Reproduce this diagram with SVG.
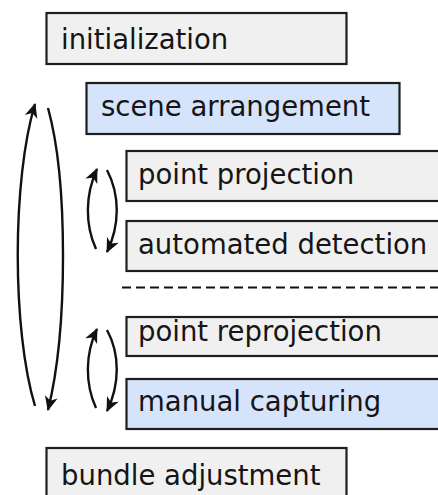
<svg xmlns="http://www.w3.org/2000/svg" width="438" height="495" viewBox="0 0 438 495">
  <style>
    .box { stroke: #1e1e1e; stroke-width: 2.2; }
    .grey { fill: #f0f0f0; }
    .blue { fill: #d5e4fa; }
    .label { font-family: "DejaVu Sans", sans-serif; font-size: 27.5px; fill: #151515; }
    .link { fill: none; stroke: #111; stroke-width: 2.4; }
    .sep { fill: none; stroke: #111; stroke-width: 2; stroke-dasharray: 9 5; }
  </style>
  <defs>
    <marker id="head" markerUnits="userSpaceOnUse" markerWidth="18" markerHeight="14" viewBox="-15 -7 16 14" refX="0" refY="0" orient="auto">
      <path d="M1,0 L-13.5,-6.5 L-9.5,0 L-13.5,6.5 Z" fill="#111"/>
    </marker>
  </defs>
  <rect width="438" height="495" fill="#ffffff"/>

  <g id="initialization">
    <rect class="box grey" x="46.5" y="13" width="300" height="51"/>
    <text class="label" x="61" y="49">initialization</text>
  </g>
  <g id="scene-arrangement">
    <rect class="box blue" x="86.5" y="83" width="313" height="51"/>
    <text class="label" x="101" y="116">scene arrangement</text>
  </g>
  <g id="point-projection">
    <rect class="box grey" x="126.5" y="151" width="330" height="50"/>
    <text class="label" x="138" y="184">point projection</text>
  </g>
  <g id="automated-detection">
    <rect class="box grey" x="126.5" y="221" width="330" height="50"/>
    <text class="label" x="138" y="254">automated detection</text>
  </g>
  <g id="point-reprojection">
    <rect class="box grey" x="126.5" y="317" width="330" height="39"/>
    <text class="label" x="138" y="341">point reprojection</text>
  </g>
  <g id="manual-capturing">
    <rect class="box blue" x="126.5" y="379" width="330" height="50"/>
    <text class="label" x="138" y="411">manual capturing</text>
  </g>
  <g id="bundle-adjustment">
    <rect class="box grey" x="46.5" y="448" width="300" height="60"/>
    <text class="label" x="61" y="485">bundle adjustment</text>
  </g>

  <g id="connectors">
    <path class="sep" d="M122,287.5 H438"/>
    <!-- outer loop -->
    <path class="link" d="M35,406 C12,330 12,180 35,104" marker-end="url(#head)"/>
    <path class="link" d="M48,108 C68,180 68,330 48,410" marker-end="url(#head)"/>
    <!-- inner loop: projection / detection -->
    <path class="link" d="M96,249 C85,225 85,195 97,169" marker-end="url(#head)"/>
    <path class="link" d="M107,170 C120,195 120,225 107,252" marker-end="url(#head)"/>
    <!-- inner loop: reprojection / capturing -->
    <path class="link" d="M96,408 C85,384 85,354 97,329" marker-end="url(#head)"/>
    <path class="link" d="M107,330 C120,354 120,384 107,411" marker-end="url(#head)"/>
  </g>
</svg>
